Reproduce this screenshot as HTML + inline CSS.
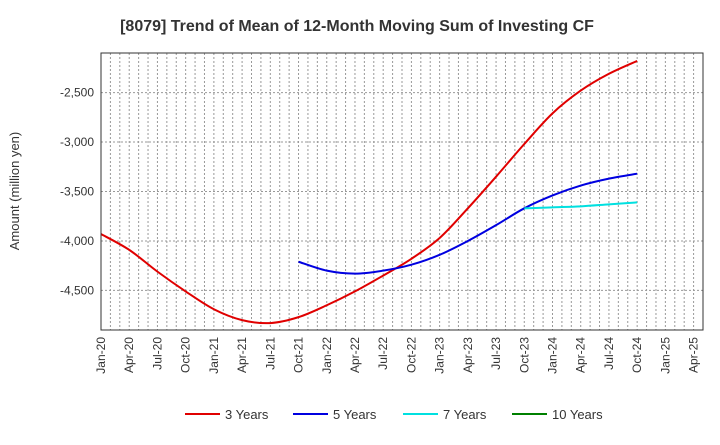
<!DOCTYPE html>
<html><head><meta charset="utf-8"><style>
body{margin:0;background:#fff;font-family:"Liberation Sans",sans-serif}
</style></head><body>
<svg id="c" width="720" height="440" xmlns="http://www.w3.org/2000/svg">
<text x="357" y="31" text-anchor="middle" font-size="16" font-weight="700" fill="#333">[8079]  Trend of Mean of 12-Month Moving Sum of Investing CF</text>
<text transform="translate(19,191) rotate(-90)" text-anchor="middle" font-size="13" fill="#333">Amount (million yen)</text>
<g id="grid"></g><g id="series"></g><g id="axes"></g><g id="legend"></g>
</svg>
<script>
const xLabels=["Jan-20","Apr-20","Jul-20","Oct-20","Jan-21","Apr-21","Jul-21","Oct-21","Jan-22","Apr-22","Jul-22","Oct-22","Jan-23","Apr-23","Jul-23","Oct-23","Jan-24","Apr-24","Jul-24","Oct-24","Jan-25","Apr-25"];
const yTicks=[-2500,-3000,-3500,-4000,-4500];
const yTickLabels=["-2,500","-3,000","-3,500","-4,000","-4,500"];
const seriesNames=["3 Years","5 Years","7 Years","10 Years"];
const seriesColors=["#e00000","#0000e0","#00e0e0","#008000"];
// quarterly values, index = quarter from Jan-20
const s3=[-3930,-4090,-4310,-4510,-4690,-4800,-4830,-4770,-4650,-4510,-4350,-4180,-3970,-3670,-3350,-3020,-2710,-2480,-2310,-2180];
const s5Start=7;
const s5=[-4210,-4300,-4330,-4300,-4240,-4140,-4000,-3840,-3670,-3540,-3440,-3370,-3320];
const s7Start=15;
const s7=[-3670,-3660,-3650,-3630,-3610];
const s10=[];
const L=101,R=703,T=53,B=330,xMax=64,yMin=-4900,yMax=-2100;
const X=m=>L+(R-L)*m/xMax, Y=v=>B-(B-T)*(v-yMin)/(yMax-yMin);
const NS="http://www.w3.org/2000/svg";
function el(t,a,p){const e=document.createElementNS(NS,t);for(const k in a)e.setAttribute(k,a[k]);document.getElementById(p).appendChild(e);return e;}
for(let m=1;m<xMax;m++){const g=el('line',{x1:X(m),x2:X(m),y1:T,y2:B,stroke:'#999','stroke-dasharray':'2,2','stroke-width':1},'grid');

}
yTicks.forEach((v,i)=>{const g=el('line',{x1:L,x2:R,y1:Y(v),y2:Y(v),stroke:'#999','stroke-dasharray':'2,2'},'grid');


const t=el('text',{x:L-7,y:Y(v)+4,'text-anchor':'end','font-size':12,fill:'#333'},'axes');t.textContent=yTickLabels[i];

});
xLabels.forEach((s,i)=>{const x=X(i*3);const t=el('text',{transform:`translate(${x+4},${B+7}) rotate(-90)`,'text-anchor':'end','font-size':12,fill:'#333'},'axes');t.textContent=s;

});
const fr=el('rect',{x:L,y:T,width:R-L,height:B-T,fill:'none',stroke:'#333','stroke-width':1},'axes');


function path(vals,start){const p=vals.map((v,i)=>[X((start+i)*3),Y(v)]);if(p.length<2)return '';
let d=`M${p[0][0]},${p[0][1]}`;for(let i=0;i<p.length-1;i++){const p0=p[Math.max(0,i-1)],p1=p[i],p2=p[i+1],p3=p[Math.min(p.length-1,i+2)];
d+=`C${p1[0]+(p2[0]-p0[0])/6},${p1[1]+(p2[1]-p0[1])/6} ${p2[0]-(p3[0]-p1[0])/6},${p2[1]-(p3[1]-p1[1])/6} ${p2[0]},${p2[1]}`;}return d;}
[[s3,0],[s5,s5Start],[s7,s7Start],[s10,0]].forEach(([v,s],i)=>{const d=path(v,s);if(!d)return;
const e=el('path',{d,fill:'none',stroke:seriesColors[i],'stroke-width':2},'series');

});
const lx=[185,293,403,512];
seriesNames.forEach((n,i)=>{const l=el('line',{x1:lx[i],x2:lx[i]+35,y1:414,y2:414,stroke:seriesColors[i],'stroke-width':2},'legend');


const t=el('text',{x:lx[i]+40,y:419,'font-size':13,fill:'#333'},'legend');t.textContent=n;

});
</script>
</body></html>
